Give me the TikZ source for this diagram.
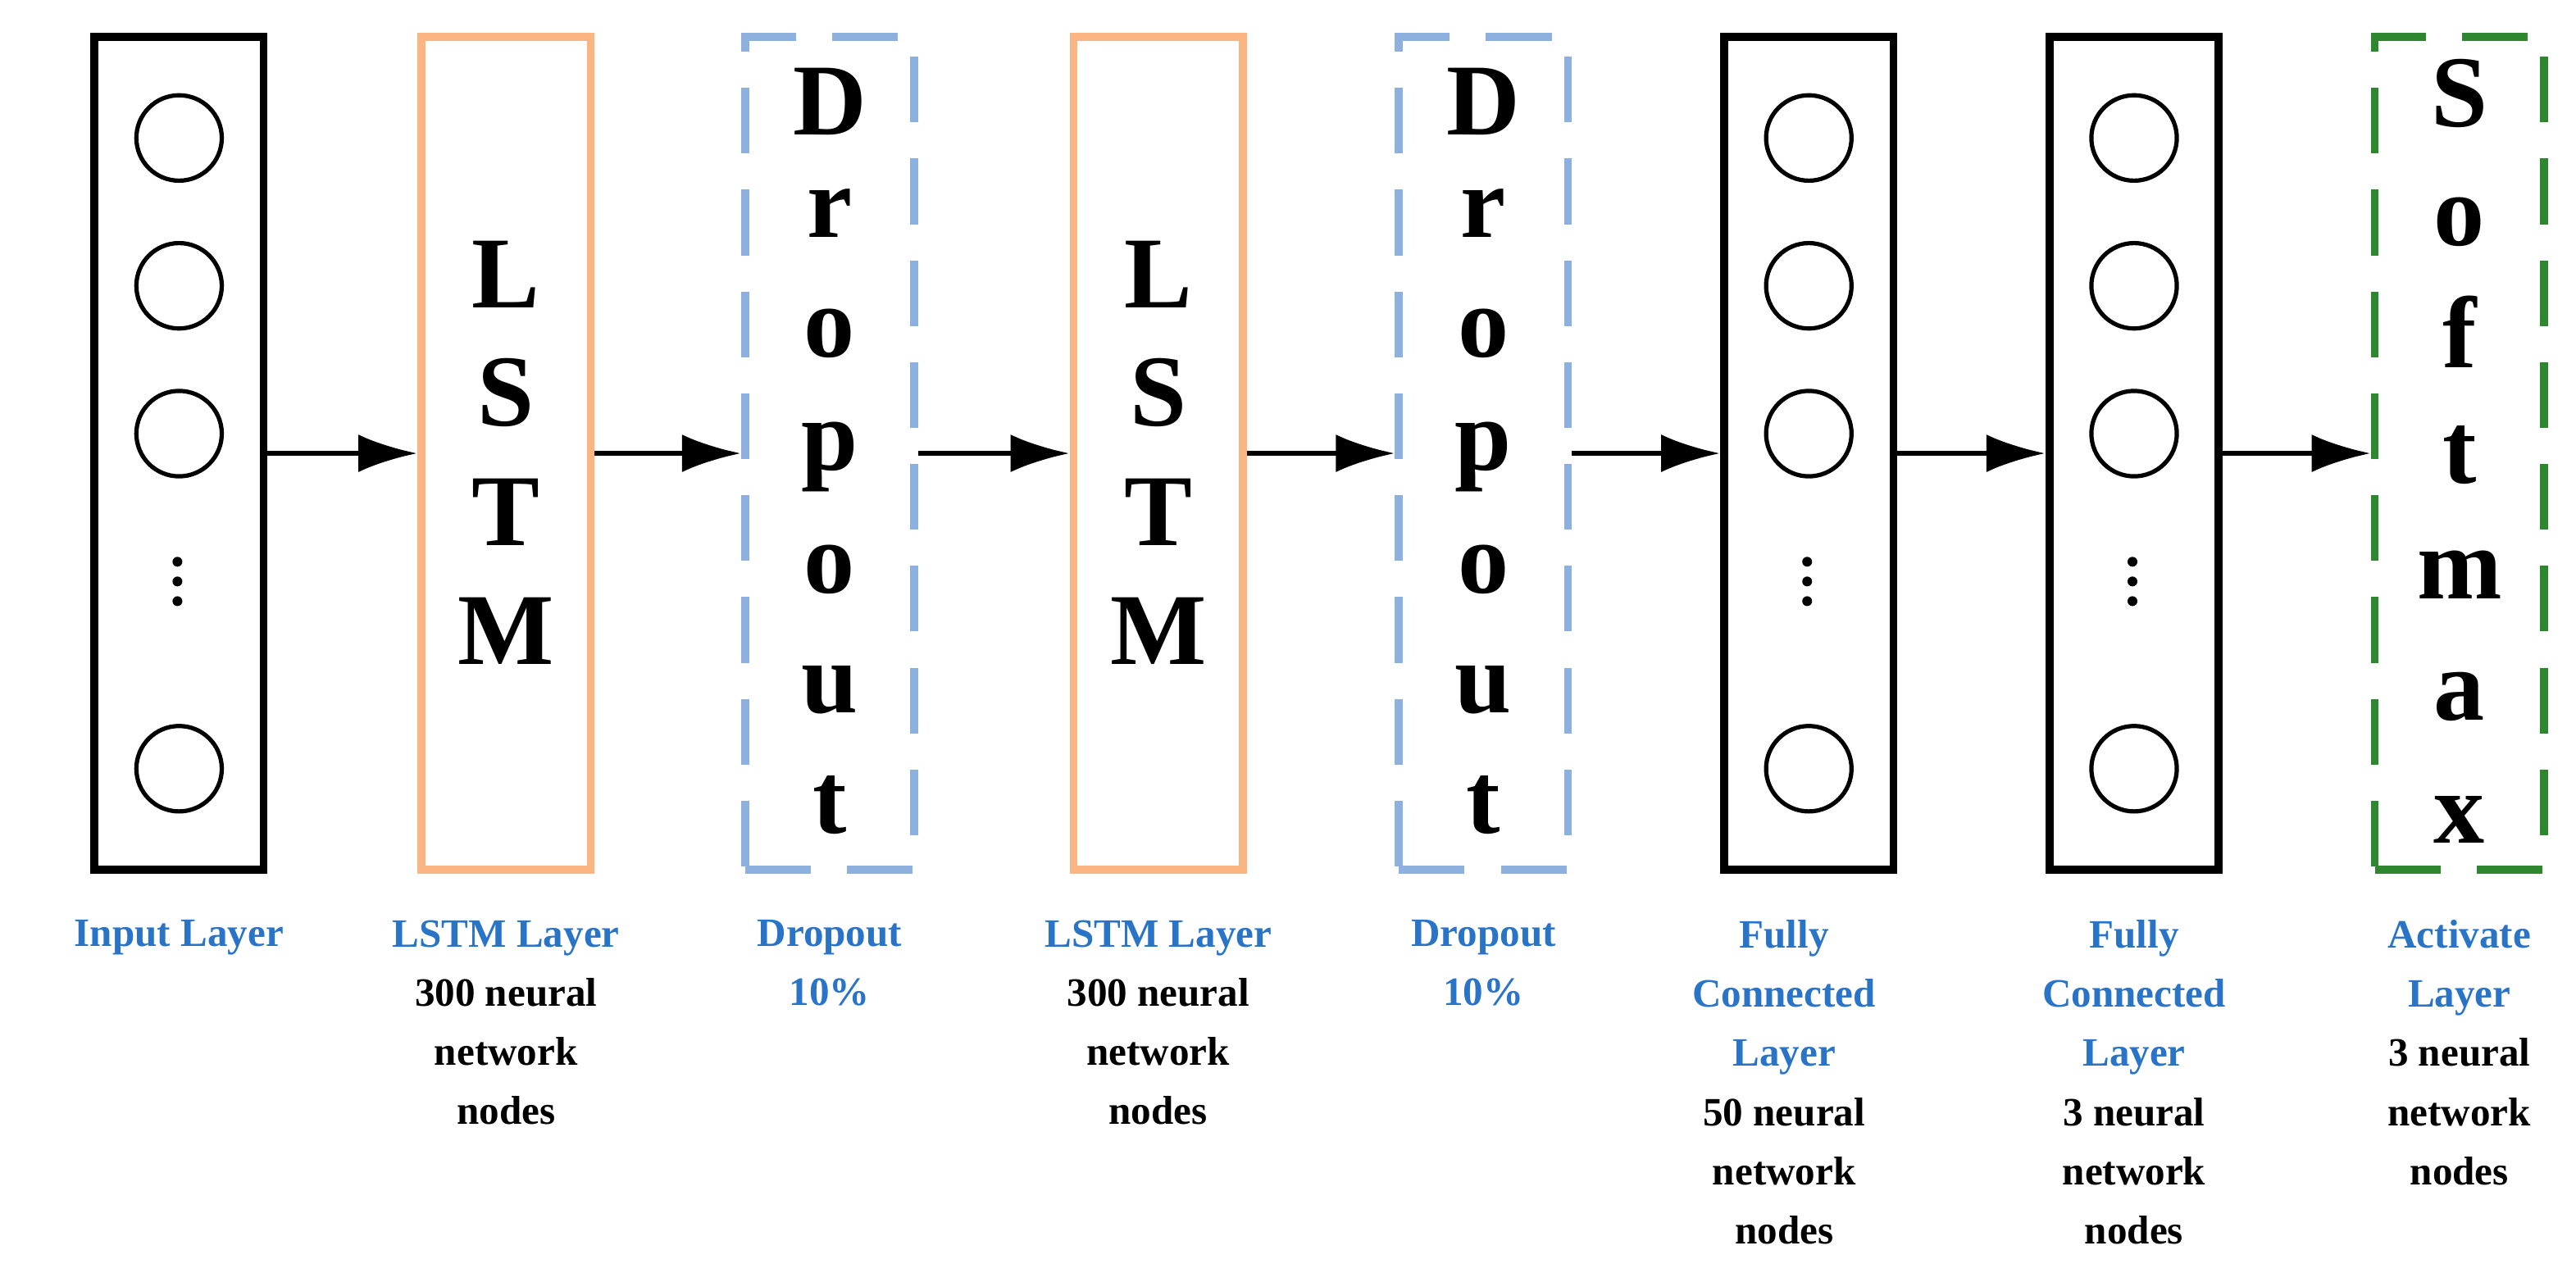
\documentclass[tikz,border=0pt]{standalone}
\usepackage{fontspec}
\setmainfont{Liberation Serif}
\usetikzlibrary{arrows.meta}
\definecolor{orng}{HTML}{FBB583}
\definecolor{dblue}{HTML}{8DB0DF}
\definecolor{grn}{HTML}{2E862E}
\definecolor{lblue}{HTML}{2A74C8}
\begin{document}
\begin{tikzpicture}[x=1pt,y=-1pt,
  box/.style={draw,line width=4.8pt,minimum width=103pt,minimum height=507pt,inner sep=0pt},
  blk/.style={box,draw=black},
  lstm/.style={box,draw=orng},
  drop/.style={box,draw=dblue,dash pattern=on 40pt off 22pt},
  soft/.style={box,draw=grn,dash pattern=on 40pt off 22pt},
  neu/.style={draw,line width=2.6pt,circle,minimum size=52pt,inner sep=0pt},
  dot/.style={fill,circle,minimum size=6pt,inner sep=0pt},
  big/.style={font=\fontsize{62}{62}\selectfont\bfseries,inner sep=0pt},
  arr/.style={-{Latex[length=36pt,width=23pt]},line width=3.2pt},
  lab/.style={align=center,font=\fontsize{24.5}{36}\selectfont\bfseries,anchor=north,inner sep=0pt}]
\useasboundingbox (0,0) rectangle (1568,780.5);
\def\ya{276}
\node[blk]  (b1) at (109,\ya) {};
\node[lstm] (b2) at (308,\ya) {};
\node[drop] (b3) at (505,\ya) {};
\node[lstm] (b4) at (705,\ya) {};
\node[drop] (b5) at (903,\ya) {};
\node[blk]  (b6) at (1101,\ya) {};
\node[blk]  (b7) at (1299,\ya) {};
\node[soft] (b8) at (1497,\ya) {};
\foreach \b/\x in {1/109,6/1101,7/1299}{
  \node[neu] (c\b a) at (\x,84) {};
  \node[neu] (c\b b) at (\x,174) {};
  \node[neu] (c\b c) at (\x,264) {};
  \node[neu] (c\b d) at (\x,468) {};
  \node[dot] (d\b a) at (\x-1,342) {};
  \node[dot] (d\b b) at (\x-1,354) {};
  \node[dot] (d\b c) at (\x-1,366) {};
}
\foreach \x/\n in {308/l1,705/l2}{
  \foreach \c/\y/\k in {L/167/a,S/239/b,T/312/c,M/384/d}
    \node[big] (\n\k) at (\x,\y) {\c};
}
\foreach \x/\n in {505/p1,903/p2}{
  \foreach \c/\y/\k in {D/62/a,r/130/b,o/203/c,p/278/d,o/347/e,u/420/f,t/490/g}
    \node[big] (\n\k) at (\x,\y) {\c};
}
\foreach \c/\y/\k in {S/57/a,o/135/b,f/202/c,t/277/d,m/350/e,a/424/f,x/499/g}
  \node[big] (s\k) at (1497,\y) {\c};
\draw[arr] (b1.east) -- (b2.west);
\draw[arr] (b2.east) -- (b3.west);
\draw[arr] (b3.east) -- (b4.west);
\draw[arr] (b4.east) -- (b5.west);
\draw[arr] (b5.east) -- (b6.west);
\draw[arr] (b6.east) -- (b7.west);
\draw[arr] (b7.east) -- (b8.west);
\def\ly{560}
\node[lab] (t1) at (109,\ly) {\textcolor{lblue}{Input Layer}};
\node[lab] (t2) at (308,\ly) {\textcolor{lblue}{LSTM Layer}\\300 neural\\network\\nodes};
\node[lab] (t3) at (505,\ly) {\textcolor{lblue}{Dropout}\\\textcolor{lblue}{10\%}};
\node[lab] (t4) at (705,\ly) {\textcolor{lblue}{LSTM Layer}\\300 neural\\network\\nodes};
\node[lab] (t5) at (903,\ly) {\textcolor{lblue}{Dropout}\\\textcolor{lblue}{10\%}};
\node[lab] (t6) at (1086,\ly) {\textcolor{lblue}{Fully}\\\textcolor{lblue}{Connected}\\\textcolor{lblue}{Layer}\\50 neural\\network\\nodes};
\node[lab] (t7) at (1299,\ly) {\textcolor{lblue}{Fully}\\\textcolor{lblue}{Connected}\\\textcolor{lblue}{Layer}\\3 neural\\network\\nodes};
\node[lab] (t8) at (1497,\ly) {\textcolor{lblue}{Activate}\\\textcolor{lblue}{Layer}\\3 neural\\network\\nodes};
\end{tikzpicture}
\end{document}
